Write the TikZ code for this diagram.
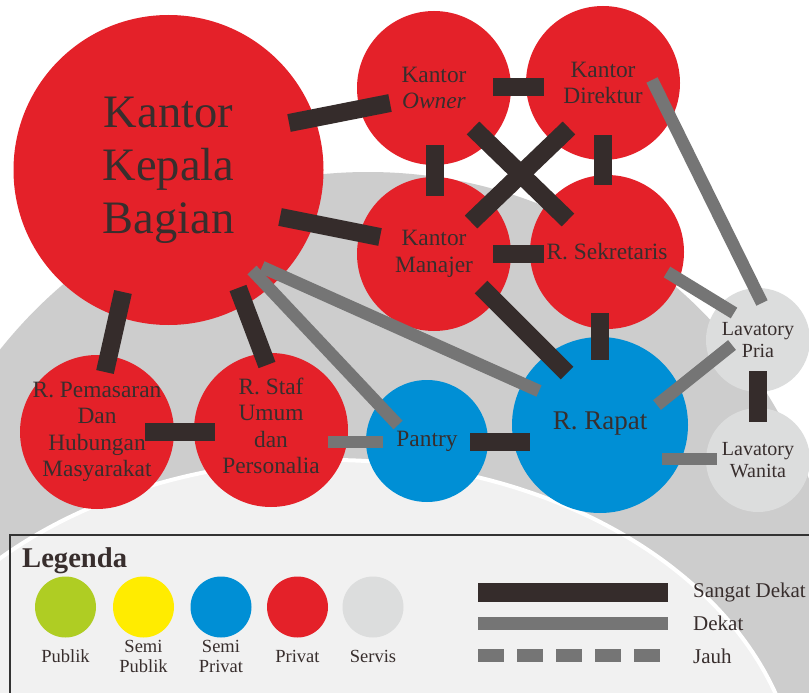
\documentclass[tikz,border=0pt]{standalone}
\usepackage{fontspec}
\setmainfont{Liberation Serif}
\usetikzlibrary{calc}

\definecolor{privat}{HTML}{E42129}
\definecolor{semiprivat}{HTML}{008FD5}
\definecolor{servis}{HTML}{DCDDDD}
\definecolor{publik}{HTML}{AFCD23}
\definecolor{semipublik}{HTML}{FFEC00}
\definecolor{barsd}{HTML}{352C2B}
\definecolor{bard}{HTML}{757575}
\definecolor{ink}{HTML}{382E2D}
\definecolor{wmgrey}{HTML}{CDCDCD}
\definecolor{wmlight}{HTML}{F1F1F1}
\definecolor{frame}{HTML}{333333}

\begin{document}
\begin{tikzpicture}[x=1pt,y=-1pt,
  room/.style={circle, inner sep=0pt, outer sep=0pt, minimum size=#1},
  rt/.style={align=center, text=ink, inner sep=0pt, font=\fontsize{23.4}{26.5}\selectfont},
  lt/.style={align=center, text=ink, inner sep=0pt, font=\fontsize{18.5}{20}\selectfont},
  st/.style={text=ink, inner sep=0pt, font=\fontsize{21}{24}\selectfont, anchor=base west},
  sd/.style={draw=barsd, line width=18pt},
  dk/.style={draw=bard, line width=12.5pt},
]
\useasboundingbox (0,0) rectangle (809,693);

% background seal
\begin{scope}
  \clip (0,0) rectangle (809,693);
  \fill[white] (0,0) rectangle (809,693);
  \fill[wmgrey] (368,642) circle[radius=470];
  \fill[wmlight, draw=white, line width=4pt] (330,800) ellipse[x radius=469, y radius=340];
  % legend frame
  \draw[frame, line width=1.5pt] (10,535) rectangle (830,720);
\end{scope}

% rooms
\node[room=310, fill=privat]     (kkb)  at (168.5,170) {};
\node[room=154, fill=privat]     (own)  at (434,88)    {};
\node[room=154, fill=privat]     (dir)  at (603,83)    {};
\node[room=154, fill=privat]     (man)  at (434,254)   {};
\node[room=154, fill=privat]     (sek)  at (607,252)   {};
\node[room=176, fill=semiprivat] (rap)  at (600,425)   {};
\node[room=122, fill=semiprivat] (pan)  at (427,441)   {};
\node[room=154, fill=privat]     (staf) at (271,430)   {};
\node[room=154, fill=privat]     (pem)  at (97,432)    {};
\node[room=104, fill=servis]     (lvp)  at (758,340)   {};
\node[room=104, fill=servis]     (lvw)  at (758,460)   {};

% very close relations
\draw[sd] ($(kkb)+(120.5,-47)$) -- ($(own)+(-44,15)$);
\draw[sd] ($(kkb)+(111.5,47)$)  -- ($(man)+(-54,-17)$);
\draw[sd] ($(kkb)+(-45.5,122)$) -- ($(pem)+(8,-60)$);
\draw[sd] ($(kkb)+(69.5,118)$)  -- ($(staf)+(-4,-65)$);
\draw[sd] ($(pem)+(48,0)$)      -- ($(staf)+(-56,2)$);
\draw[sd] ($(own)+(59,-1)$)     -- ($(dir)+(-59,4)$);
\draw[sd] ($(own)+(0.5,57)$)    -- ($(man)+(0.5,-58)$);
\draw[sd] ($(dir)+(0,52)$)      -- ($(sek)+(-4,-67)$);
\draw[sd] ($(own)+(39,40)$)     -- ($(sek)+(-39,-32)$);
\draw[sd] ($(dir)+(-34,45)$)    -- ($(man)+(37,-32)$);
\draw[sd] ($(man)+(59,0)$)      -- ($(sek)+(-63,2)$);
\draw[sd] ($(man)+(47,33)$)     -- ($(rap)+(-33,-52)$);
\draw[sd] ($(sek)+(-7,61)$)     -- ($(rap)+(0,-65)$);
\draw[sd] ($(pan)+(43,1)$)      -- ($(rap)+(-70,17)$);
\draw[sd] ($(lvp)+(0,31)$)      -- ($(lvw)+(0,-38)$);

% close relations
\draw[dk] ($(dir)+(49,-3)$)     -- ($(lvp)+(4,-37)$);
\draw[dk] ($(sek)+(60,20)$)     -- ($(lvp)+(-24,-27)$);
\draw[dk] ($(kkb)+(83.5,100)$)  -- ($(pan)+(-29,-16)$);
\draw[dk] ($(kkb)+(93.5,97)$)   -- ($(rap)+(-61,-34)$);
\draw[dk] ($(staf)+(57,12)$)    -- ($(pan)+(-44,1)$);
\draw[dk] ($(rap)+(57,-20)$)    -- ($(lvp)+(-26,5)$);
\draw[dk] ($(rap)+(62,34)$)     -- ($(lvw)+(-41,-1)$);

% room names
\node[rt, font=\fontsize{46.5}{53}\selectfont] (kkb-t) at (kkb) {Kantor\\Kepala\\Bagian};
\node[rt] (own-t)  at (own)  {Kantor\\\textit{Owner}};
\node[rt] (dir-t)  at (dir)  {Kantor\\Direktur};
\node[rt] (man-t)  at (man)  {Kantor\\Manajer};
\node[rt] (sek-t)  at (sek)  {R. Sekretaris};
\node[rt, font=\fontsize{27}{30}\selectfont] (rap-t) at ($(rap)+(0,-1.5)$) {R. Rapat};
\node[rt] (pan-t)  at (pan)  {Pantry};
\node[rt] (staf-t) at ($(staf)+(0,-4)$) {R. Staf\\Umum\\dan\\Personalia};
\node[rt] (pem-t)  at (pem)  {R. Pemasaran\\Dan\\Hubungan\\Masyarakat};
\node[rt, font=\fontsize{20}{22}\selectfont] (lvp-t) at (lvp) {Lavatory\\Pria};
\node[rt, font=\fontsize{20}{22}\selectfont] (lvw-t) at (lvw) {Lavatory\\Wanita};

% legend
\node[text=ink, inner sep=0pt, anchor=base west, font=\bfseries\fontsize{28.6}{30}\selectfont] (lg) at (22,567) {Legenda};
\node[room=61, fill=publik]     (lg-pub)  at (65.5,607)  {};
\node[room=61, fill=semipublik] (lg-spub) at (143.5,607) {};
\node[room=61, fill=semiprivat] (lg-spri) at (221,607)   {};
\node[room=61, fill=privat]     (lg-pri)  at (297.5,607) {};
\node[room=61, fill=servis]     (lg-ser)  at (373,607)   {};
\node[lt, anchor=base] (lg-pub-t)  at (65.5,662)  {Publik};
\node[lt] (lg-spub-t) at (143.5,656.7) {Semi\\Publik};
\node[lt] (lg-spri-t) at (221,656.7)   {Semi\\Privat};
\node[lt, anchor=base] (lg-pri-t)  at (297.5,662) {Privat};
\node[lt, anchor=base] (lg-ser-t)  at (373,662)   {Servis};

\coordinate (lsd-a) at (478,592.5); \coordinate (lsd-b) at (668,592.5);
\coordinate (ldk-a) at (478,623.5); \coordinate (ldk-b) at (668,623.5);
\coordinate (ljh-a) at (478,655.5); \coordinate (ljh-b) at (660,655.5);
\draw[sd, line width=19pt] (lsd-a) -- (lsd-b);
\draw[dk, line width=13pt] (ldk-a) -- (ldk-b);
\draw[dk, line width=13pt, dash pattern=on 26pt off 13pt] (ljh-a) -- (ljh-b);
\node[st] (lsd-t) at (693,597) {Sangat Dekat};
\node[st] (ldk-t) at (693,630) {Dekat};
\node[st] (ljh-t) at (693,663) {Jauh};
\end{tikzpicture}
\end{document}
